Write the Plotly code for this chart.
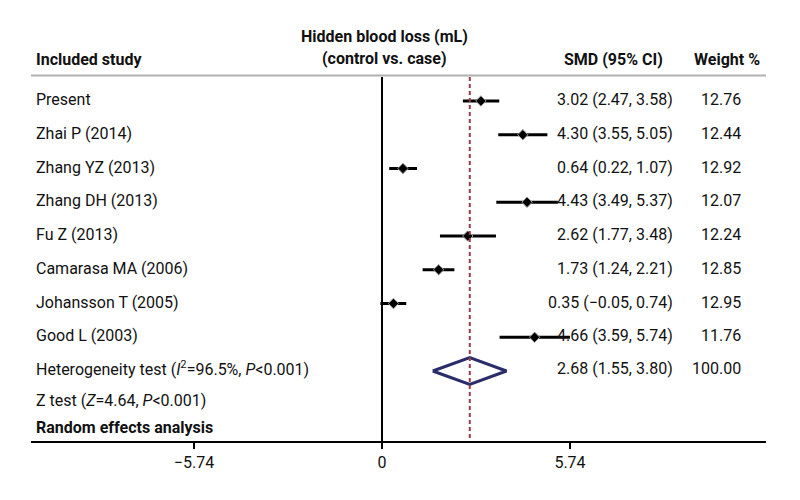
import plotly.graph_objects as go

# ---------------- data ----------------
studies = ["Present", "Zhai P (2014)", "Zhang YZ (2013)", "Zhang DH (2013)",
           "Fu Z (2013)", "Camarasa MA (2006)", "Johansson T (2005)", "Good L (2003)"]
smd = [3.02, 4.30, 0.64, 4.43, 2.62, 1.73, 0.35, 4.66]
ci_low = [2.47, 3.55, 0.22, 3.49, 1.77, 1.24, -0.05, 3.59]
ci_high = [3.58, 5.05, 1.07, 5.37, 3.48, 2.21, 0.74, 5.74]
weights = [12.76, 12.44, 12.92, 12.07, 12.24, 12.85, 12.95, 11.76]

pooled_smd = 2.68
pooled_low = 1.55
pooled_high = 3.80
pooled_weight = 100.00

tick_vals = [-5.74, 0, 5.74]
tick_text = ["\u22125.74", "0", "5.74"]

# ---------------- layout helpers (screen px of the 800x500 shot) ----------------
OFF = 8                      # default page body margin
W, H = 800 - OFF, 500 - OFF
PL, PR = 31, 766             # plot area px (left/right) on screen
PB = 441                     # axis line px on screen
X0_PX = 382                  # screen px of value 0
UNIT = 32.75                 # px per unit
ROW0 = 101.0                 # screen px of first row
STEP = 33.75                 # px per row

x_lo = (PL - X0_PX) / UNIT
x_hi = (PR - X0_PX) / UNIT
y_top = (OFF - ROW0) / STEP
y_bot = (PB - ROW0) / STEP


def px_to_paper_x(px):
    return (px - PL) / (PR - PL)


def px_to_row(py):
    return (py - ROW0) / STEP


FONT = "Roboto, Liberation Sans, sans-serif"
FS = 16
TXT = "#111111"

rows = list(range(len(studies)))
pooled_row = len(studies)

fig = go.Figure()

# CI lines
for i in rows:
    fig.add_trace(go.Scatter(x=[ci_low[i], ci_high[i]], y=[i, i], mode="lines",
                             line=dict(color="black", width=3),
                             hoverinfo="skip", showlegend=False, cliponaxis=False))
# point estimates
fig.add_trace(go.Scatter(x=smd, y=rows, mode="markers",
                         marker=dict(symbol="diamond", size=8, color="black",
                                     line=dict(color="#9a9a9a", width=1)),
                         showlegend=False, cliponaxis=False))

# pooled diamond
half = 0.4
fig.add_trace(go.Scatter(
    x=[pooled_low, pooled_smd, pooled_high, pooled_smd, pooled_low],
    y=[pooled_row, pooled_row - half, pooled_row, pooled_row + half, pooled_row],
    mode="lines", line=dict(color="#2b2d6b", width=3),
    fill="toself", fillcolor="white", showlegend=False, hoverinfo="skip"))

shapes = []
# header line
shapes.append(dict(type="line", xref="paper", yref="y", x0=0, x1=1,
                   y0=px_to_row(75.5), y1=px_to_row(75.5),
                   line=dict(color="#b0b0b0", width=2)))
# zero line
shapes.append(dict(type="line", xref="x", yref="y", x0=0, x1=0,
                   y0=px_to_row(77), y1=y_bot, line=dict(color="black", width=2)))
# pooled estimate dashed line
shapes.append(dict(type="line", xref="x", yref="y", x0=pooled_smd, x1=pooled_smd,
                   y0=px_to_row(77), y1=y_bot,
                   line=dict(color="#9b3b45", width=2, dash="4px,3px")))

ann = []


def add_text(text, px, py, anchor="left", bold=False):
    ann.append(dict(text=("<b>%s</b>" % text) if bold else text,
                    xref="paper", yref="y", x=px_to_paper_x(px), y=px_to_row(py),
                    xanchor=anchor, yanchor="middle", showarrow=False,
                    font=dict(family=FONT, size=FS, color=TXT)))


# headers
add_text("Included study", 34, 59, bold=True)
add_text("Hidden blood loss (mL)", 384, 36, anchor="center", bold=True)
add_text("(control vs. case)", 384, 58, anchor="center", bold=True)
add_text("SMD (95% CI)", 562, 59, bold=True)
add_text("Weight %", 692, 59, bold=True)

# study rows
for i in rows:
    py = ROW0 + STEP * i - 1.5
    add_text(studies[i], 34, py)
    lo = ("%.2f" % ci_low[i]).replace("-", "\u2212")
    add_text("%.2f (%s, %.2f)" % (smd[i], lo, ci_high[i]), 675, py, anchor="right")
    add_text("%.2f" % weights[i], 743, py, anchor="right")

# pooled rows
py_p = 368
add_text("Heterogeneity test (<i>I</i><sup>2</sup>=96.5%, <i>P</i>&lt;0.001)", 34, py_p)
add_text("%.2f (%.2f, %.2f)" % (pooled_smd, pooled_low, pooled_high), 675, py_p, anchor="right")
add_text("%.2f" % pooled_weight, 743, py_p, anchor="right")
add_text("Z test (<i>Z</i>=4.64, <i>P</i>&lt;0.001)", 34, 400)
add_text("Random effects analysis", 34, 427, bold=True)

fig.update_layout(
    width=W, height=H,
    margin=dict(l=PL - OFF, r=W - (PR - OFF), t=0, b=H - (PB - OFF), pad=0),
    paper_bgcolor="white", plot_bgcolor="white",
    shapes=shapes, annotations=ann, showlegend=False,
    xaxis=dict(range=[x_lo, x_hi], showgrid=False, zeroline=False,
               showline=True, linecolor="black", linewidth=2,
               ticks="outside", ticklen=6, tickwidth=2, tickcolor="black",
               tickvals=tick_vals, ticktext=tick_text,
               tickfont=dict(family=FONT, size=FS, color=TXT),
               fixedrange=True),
    yaxis=dict(range=[y_bot, y_top], visible=False, fixedrange=True),
)

fig.write_html("out.html")
